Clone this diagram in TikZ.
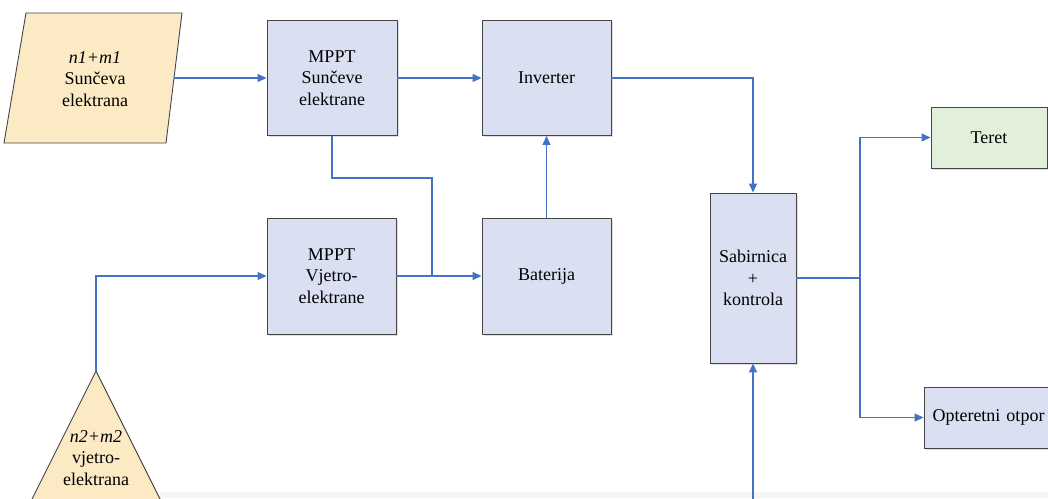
\documentclass[tikz,border=0pt]{standalone}
\usepackage{fontspec}
\setmainfont{Liberation Serif}
\usetikzlibrary{arrows.meta,shadows}
\definecolor{boxfill}{HTML}{DAE0F1}
\definecolor{srcfill}{HTML}{FCEAC4}
\definecolor{loadfill}{HTML}{E2EFDA}
\definecolor{edge}{HTML}{454545}
\definecolor{wire}{HTML}{4472C4}
\definecolor{band}{HTML}{F3F5FA}
\tikzset{
  blk/.style={draw=edge, line width=0.9pt, fill=boxfill, align=center,
    font=\fontsize{18}{21.5}\selectfont, inner sep=2pt,
    drop shadow={shadow xshift=1.5pt, shadow yshift=-1.5pt, opacity=0.25}},
  srcshape/.style={draw=edge, line width=0.9pt, fill=srcfill},
  txt/.style={align=center, font=\fontsize{18}{21.5}\selectfont, inner sep=0pt},
  conn/.style={draw=wire, line width=1.1pt},
  arr/.style={conn, -{Triangle[length=9pt,width=8pt]}}
}
\begin{document}
\begin{tikzpicture}[x=1pt,y=-1pt]
\clip (0,0) rectangle (1048,498);
\fill[white] (0,0) rectangle (1048,498);
\fill[band] (160,492) rectangle (1048,498);

% source 1 (parallelogram)
\path[srcshape] (26,13) -- (182,13) -- (166,143) -- (4,143) -- cycle;
\node[txt] (src1) at (95,79) {\textit{n1+m1}\\Sunčeva\\elektrana};
\coordinate (src1e) at (174,78);

% source 2 (triangle)
\path[srcshape] (96,371) -- (176,531) -- (16,531) -- cycle;
\node[txt] (src2) at (96,458) {\textit{n2+m2}\\vjetro-\\elektrana};
\coordinate (src2top) at (96,371);

% blocks
\node[blk, minimum width=130, minimum height=115] (mppt1) at (332,78) {MPPT\\Sunčeve\\elektrane};
\node[blk, minimum width=129, minimum height=115] (inv) at (546.5,78) {Inverter};
\node[blk, minimum width=129, minimum height=116] (mppt2) at (331.5,276) {MPPT\\Vjetro-\\elektrane};
\node[blk, minimum width=129, minimum height=116] (bat) at (546.5,276) {Baterija};
\node[blk, minimum width=86, minimum height=170] (sab) at (753,278) {Sabirnica\\+\\kontrola};
\node[blk, fill=loadfill, minimum width=116, minimum height=61] (teret) at (989,137.5) {Teret};
\node[blk, minimum width=150, minimum height=61, text width=140, align=left, inner sep=0pt] (opt) at (999,417.5) {\hspace*{3.5pt}Opteretni otpor};

% junctions
\coordinate (bend1) at (432,178);
\coordinate (j1) at (432,276);
\coordinate (j2) at (860,278);
\coordinate (bot) at (753,510);

% connectors
\draw[arr] (src1e) -- (mppt1.west);
\draw[arr] (mppt1.east) -- (inv.west);
\draw[conn] (mppt1.south) |- (bend1) -- (j1);
\draw[arr] (mppt2.east) -- (bat.west);
\draw[arr] (bat.north) -- (inv.south);
\draw[arr] (inv.east) -| (sab.north);
\draw[conn] (sab.east) -- (j2);
\draw[arr] (j2) |- (teret.west);
\draw[arr] (j2) |- (opt.west);
\draw[arr] (bot) -- (sab.south);
\draw[arr] (src2top) |- (mppt2.west);
\end{tikzpicture}
\end{document}
